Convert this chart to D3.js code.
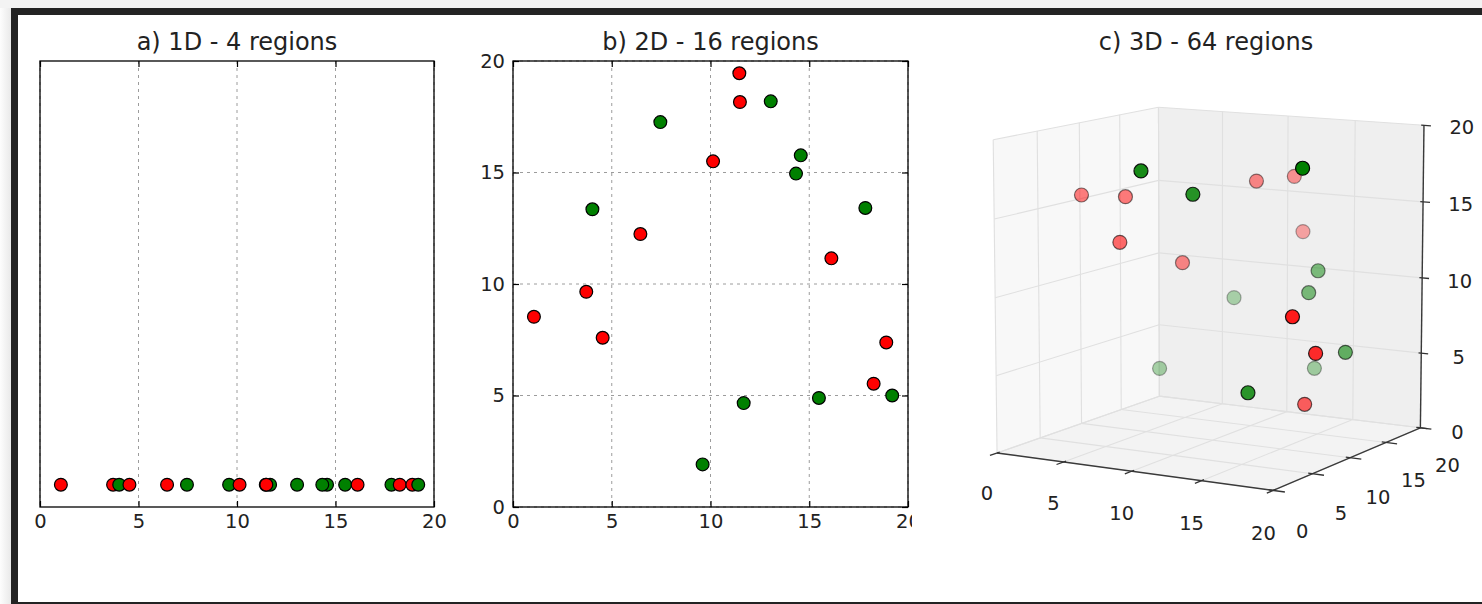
<!DOCTYPE html>
<html>
<head>
<meta charset="utf-8">
<script src="https://cdn.jsdelivr.net/npm/d3@7"></script>
<style>
body { margin: 0; background: #fff; }
text { font-family: "DejaVu Sans", sans-serif; fill: #222; }
.grid line { stroke: #9c9c9c; stroke-width: 1; stroke-dasharray: 3,4; }
.tick line { stroke: #000; stroke-width: 1.2; }
</style>
</head>
<body>
<svg></svg>
<script>
// same 20 points used in all three panels (x, y, z), r = red class, g = green class
let classes = ["r","g","r","g","r","g","r","r","g","r","g","r","r","g","g","g","g","g","r","r"]
let xVals = [3.71, 4.02, 4.54, 9.60, 10.13, 11.68, 11.46, 11.49, 17.84, 18.26, 15.49, 16.12, 18.90, 19.20, 13.05, 7.46, 14.57, 14.33, 6.45, 1.06]
let yVals = [9.65, 13.35, 7.59, 1.91, 15.50, 4.66, 19.45, 18.16, 13.41, 5.53, 4.89, 11.15, 7.38, 5.00, 18.19, 17.26, 15.77, 14.95, 12.24, 8.53]
let zVals = [15.46, 3.53, 12.83, 18.47, 16.22, 16.83, 12.45, 16.30, 5.97, 9.59, 4.64, 2.81, 7.04, 18.93, 3.60, 7.99, 10.63, 9.29, 10.99, 15.52]
let oneDLevel = 0

let tickVals = [0, 5, 10, 15, 20]
let titles = ["a) 1D - 4 regions", "b) 2D - 16 regions", "c) 3D - 64 regions"]
let colorOf = { r: "#ff0000", g: "#008000" }

let W = 1482, H = 604
let svg = d3.select("svg").attr("width", W).attr("height", H)

// page frame around the figure
let defs = svg.append("defs")
let grad = defs.append("linearGradient").attr("id", "shade")
grad.append("stop").attr("offset", "0%").attr("stop-color", "#fdfdfd")
grad.append("stop").attr("offset", "100%").attr("stop-color", "#e9e9e9")
svg.append("rect").attr("width", W).attr("height", H).attr("fill", "#f3f3f3")
svg.append("rect").attr("x", 0).attr("y", 8).attr("width", 11).attr("height", H).attr("fill", "url(#shade)")
svg.append("rect").attr("x", 11).attr("y", 8).attr("width", W).attr("height", H).attr("fill", "#232323")
svg.append("rect").attr("x", 18).attr("y", 15).attr("width", W).attr("height", 587).attr("fill", "#fff")

let points = classes.map((c, i) => ({ c: c, x: xVals[i], y: yVals[i], z: zVals[i] }))

function dots(sel, data, cx, cy, r) {
  sel.selectAll(null).data(data).enter().append("circle")
    .attr("cx", cx).attr("cy", cy).attr("r", r)
    .attr("fill", d => colorOf[d.c])
    .attr("stroke", "#000").attr("stroke-width", 1.2)
}

function title(text, x) {
  svg.append("text").attr("x", x).attr("y", 50).attr("text-anchor", "middle")
    .style("font-size", "24px").text(text)
}

function frameAxes(g, x, y, box, showY) {
  let bx = d3.axisBottom(x).tickValues(tickVals).tickSizeInner(-6).tickSizeOuter(0).tickPadding(7)
  let tx = d3.axisTop(x).tickValues(tickVals).tickSizeInner(-6).tickSizeOuter(0).tickFormat("")
  let b = g.append("g").attr("transform", "translate(0," + box.bottom + ")").call(bx)
  let t = g.append("g").attr("transform", "translate(0," + box.top + ")").call(tx)
  let parts = [b, t]
  if (showY) {
    let ly = d3.axisLeft(y).tickValues(tickVals).tickSizeInner(-6).tickSizeOuter(0).tickPadding(8)
    let ry = d3.axisRight(y).tickValues(tickVals).tickSizeInner(-6).tickSizeOuter(0).tickFormat("")
    parts.push(g.append("g").attr("transform", "translate(" + box.left + ",0)").call(ly))
    parts.push(g.append("g").attr("transform", "translate(" + box.right + ",0)").call(ry))
  }
  parts.forEach(p => {
    p.select(".domain").remove()
    p.selectAll("text").style("font-size", "19.5px").attr("fill", "#222")
  })
  g.append("rect").attr("x", box.left).attr("y", box.top)
    .attr("width", box.right - box.left).attr("height", box.bottom - box.top)
    .attr("fill", "none").attr("stroke", "#000").attr("stroke-width", 1.3)
}

// ---- a) 1D
let pa = { left: 40, right: 434, top: 61, bottom: 507 }
let x1 = d3.scaleLinear().domain([0, 20]).range([pa.left, pa.right])
let y1 = d3.scaleLinear().domain([-1, 19]).range([pa.bottom, pa.top])
let ga = svg.append("g")
ga.append("g").attr("class", "grid").selectAll("line").data(tickVals).enter().append("line")
  .attr("x1", d => x1(d)).attr("x2", d => x1(d)).attr("y1", pa.top).attr("y2", pa.bottom)
frameAxes(ga, x1, y1, pa, false)
dots(ga, points, d => x1(d.x), d => y1(oneDLevel), 6.4)
title(titles[0], (pa.left + pa.right) / 2)

// ---- b) 2D
let pb = { left: 513, right: 908, top: 61, bottom: 507 }
let x2 = d3.scaleLinear().domain([0, 20]).range([pb.left, pb.right])
let y2 = d3.scaleLinear().domain([0, 20]).range([pb.bottom, pb.top])
let gb = svg.append("g")
let gridB = gb.append("g").attr("class", "grid")
gridB.selectAll(".gv").data(tickVals).enter().append("line")
  .attr("x1", d => x2(d)).attr("x2", d => x2(d)).attr("y1", pb.top).attr("y2", pb.bottom)
gridB.selectAll(".gh").data(tickVals).enter().append("line")
  .attr("y1", d => y2(d)).attr("y2", d => y2(d)).attr("x1", pb.left).attr("x2", pb.right)
frameAxes(gb, x2, y2, pb, true)
dots(gb, points, d => x2(d.x), d => y2(d.y), 6.4)
title(titles[1], (pb.left + pb.right) / 2)

// 3D axes background covers the edge of the 2D tick label
svg.append("rect").attr("x", 912).attr("y", 15).attr("width", W).attr("height", 587).attr("fill", "#fff")

// ---- c) 3D (perspective like mplot3d, elev 10, azim -60)
let view = { cx: 1212.5, cy: 287.6, s: 3125, elev: 10, azim: -60, dist: 10 }
let n3 = d3.scaleLinear().domain([0, 20]).range([0, 1])
let el = view.elev * Math.PI / 180, az = view.azim * Math.PI / 180
let nv = [Math.cos(az) * Math.cos(el), Math.sin(az) * Math.cos(el), Math.sin(el)]
let uv = [-Math.sin(az), Math.cos(az), 0]
let vv = [-Math.sin(el) * Math.cos(az), -Math.sin(el) * Math.sin(az), Math.cos(el)]
let dot3 = (a, b) => a[0] * b[0] + a[1] * b[1] + a[2] * b[2]

function project(x, y, z) {
  let d = [n3(x) - 0.5, n3(y) - 0.5, n3(z) - 0.5]
  let w = view.dist - dot3(nv, d)
  return { x: view.cx + view.s * dot3(uv, d) / w, y: view.cy - view.s * dot3(vv, d) / w, depth: -view.dist / w }
}

let gc = svg.append("g")
let poly = pts => pts.map(p => { let q = project(p[0], p[1], p[2]); return q.x + "," + q.y }).join(" ")
let panes = [
  { c: "#f8f8f8", p: [[0, 0, 0], [0, 20, 0], [0, 20, 20], [0, 0, 20]] },
  { c: "#efefef", p: [[0, 20, 0], [20, 20, 0], [20, 20, 20], [0, 20, 20]] },
  { c: "#f3f3f3", p: [[0, 0, 0], [20, 0, 0], [20, 20, 0], [0, 20, 0]] }
]
gc.selectAll(".pane").data(panes).enter().append("polygon")
  .attr("points", d => poly(d.p)).attr("fill", d => d.c)

let gridSegs = []
tickVals.forEach(t => {
  gridSegs.push([[t, 0, 0], [t, 20, 0]], [[0, t, 0], [20, t, 0]])      // floor
  gridSegs.push([[0, t, 0], [0, t, 20]], [[0, 0, t], [0, 20, t]])      // x = 0 wall
  gridSegs.push([[t, 20, 0], [t, 20, 20]], [[0, 20, t], [20, 20, t]])  // y = 20 wall
})
function seg(g, data, color, width) {
  g.selectAll(null).data(data).enter().append("line")
    .attr("x1", d => project(...d[0]).x).attr("y1", d => project(...d[0]).y)
    .attr("x2", d => project(...d[1]).x).attr("y2", d => project(...d[1]).y)
    .attr("stroke", color).attr("stroke-width", width)
}
seg(gc, gridSegs, "#e0e0e0", 1.1)

// axis lines and ticks
seg(gc, [[[0, 0, 0], [20, 0, 0]], [[20, 0, 0], [20, 20, 0]], [[20, 20, 0], [20, 20, 20]]], "#3a3a3a", 1.4)
seg(gc, tickVals.map(t => [[t, 0.3, 0], [t, -0.8, 0]]), "#333", 1.3)
seg(gc, tickVals.map(t => [[19.7, t, 0], [20.8, t, 0]]), "#333", 1.3)
seg(gc, tickVals.map(t => [[19.8, 20, t], [20.5, 20, t]]), "#333", 1.3)

function label3(data, pos) {
  gc.selectAll(null).data(data).enter().append("text")
    .attr("x", d => project(...pos(d)).x).attr("y", d => project(...pos(d)).y)
    .attr("text-anchor", "middle").attr("dominant-baseline", "central")
    .style("font-size", "19.5px").text(d => d)
}
label3(tickVals, t => [t, -1.2, -2.4])
label3(tickVals, t => [22.0, t, -2.3])
label3(tickVals, t => [22.7, 20, t])

// points with depth shading, far ones first
let p3 = points.map(d => Object.assign({}, d, { pr: project(d.x, d.y, d.z) }))
let depthExt = d3.extent(p3, d => d.pr.depth)
let shade = d3.scaleLinear().domain(depthExt).range([1, 0.3])
p3.sort((a, b) => b.pr.depth - a.pr.depth)
gc.selectAll(".pt").data(p3).enter().append("circle")
  .attr("cx", d => d.pr.x).attr("cy", d => d.pr.y).attr("r", 7)
  .attr("fill", d => colorOf[d.c]).attr("fill-opacity", d => shade(d.pr.depth))
  .attr("stroke", "#000").attr("stroke-opacity", d => shade(d.pr.depth)).attr("stroke-width", 1.2)

title(titles[2], 1206)
</script>
</body>
</html>
